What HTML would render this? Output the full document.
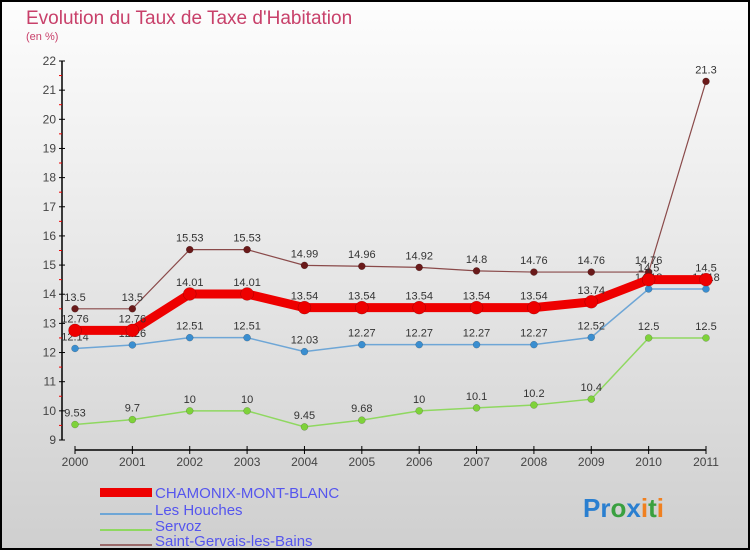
<!DOCTYPE html>
<html><head><meta charset="utf-8"><style>
html,body{margin:0;padding:0}
body{width:750px;height:550px;overflow:hidden;font-family:"Liberation Sans",sans-serif}
#wrap{position:absolute;left:0;top:0;width:746px;height:546px;border:2px solid #000;background:linear-gradient(#fdfdfd,#cfcfcf)}
</style></head><body>
<div id="wrap">
<svg id="chart" width="746" height="546" viewBox="2 2 746 546" style="position:absolute;left:0;top:0">
<text x="26" y="24" font-size="19" fill="#c8406a">Evolution du Taux de Taxe d'Habitation</text>
<text x="26" y="40" font-size="11" fill="#c8406a">(en %)</text>
<g id="axes"></g><g id="series"></g>
<g id="legend">
<rect x="100" y="488" width="52" height="9" fill="#e00"/>
<text x="155" y="498" font-size="15" fill="#5555ee">CHAMONIX-MONT-BLANC</text>
<line x1="100" y1="514" x2="152" y2="514" stroke="#6ea6d6" stroke-width="2"/>
<text x="155" y="515" font-size="15" fill="#5555ee">Les Houches</text>
<line x1="100" y1="530" x2="152" y2="530" stroke="#8fd860" stroke-width="2"/>
<text x="155" y="531" font-size="15" fill="#5555ee">Servoz</text>
<line x1="100" y1="545" x2="152" y2="545" stroke="#9a6a6a" stroke-width="2"/>
<text x="155" y="546" font-size="15" fill="#5555ee">Saint-Gervais-les-Bains</text>
</g>
<text x="583" y="517" font-size="26" font-weight="bold"><tspan fill="#2a7fd0">Pr</tspan><tspan fill="#3aa040">o</tspan><tspan fill="#2a7fd0">x</tspan><tspan fill="#f08020">i</tspan><tspan fill="#3aa040">t</tspan><tspan fill="#f08020">i</tspan></text>
</svg>
</div>
<script>
const years=["2000","2001","2002","2003","2004","2005","2006","2007","2008","2009","2010","2011"];
const yTicks=[9,10,11,12,13,14,15,16,17,18,19,20,21,22];
const chamonix=[12.76,12.76,14.01,14.01,13.54,13.54,13.54,13.54,13.54,13.74,14.5,14.5];
const houches=[12.14,12.26,12.51,12.51,12.03,12.27,12.27,12.27,12.27,12.52,14.18,14.18];
const servoz=[9.53,9.7,10,10,9.45,9.68,10,10.1,10.2,10.4,12.5,12.5];
const stgervais=[13.5,13.5,15.53,15.53,14.99,14.96,14.92,14.8,14.76,14.76,14.76,21.3];
const NS="http://www.w3.org/2000/svg";
function xS(i){return 75+i*(706-75)/11;}
function yS(v){return 440-(v-9)*(440-61)/13;}
function mk(t,a,p){const e=document.createElementNS(NS,t);for(const k in a)e.setAttribute(k,a[k]);p.appendChild(e);return e;}
const ax=document.getElementById('axes');
let l=mk('line',{x1:62,y1:61,x2:62,y2:440,stroke:'#000','stroke-width':1.5},ax);


l=mk('line',{x1:75,y1:450,x2:706,y2:450,stroke:'#000','stroke-width':1.5},ax);


yTicks.forEach(v=>{const y=yS(v);
mk('line',{x1:59,y1:y,x2:65,y2:y,stroke:'#000'},ax);
if(v<22)mk('line',{x1:59,y1:y-14.6,x2:62,y2:y-14.6,stroke:'#e00'},ax);
const t=mk('text',{x:56,y:y+4,'font-size':12,fill:'#444','text-anchor':'end'},ax);t.textContent=v;

});
years.forEach((yr,i)=>{const x=xS(i);
mk('line',{x1:x,y1:446,x2:x,y2:454,stroke:'#000'},ax);
const t=mk('text',{x:x,y:466,'font-size':12,fill:'#444','text-anchor':'middle'},ax);t.textContent=yr;

});
const sg=document.getElementById('series');
function draw(vals,color,dot,w,r,name){
const g=mk('g',{},sg);


const p=mk('polyline',{points:vals.map((v,i)=>xS(i)+','+yS(v)).join(' '),fill:'none',stroke:color,'stroke-width':w},g);


vals.forEach((v,i)=>{const c=mk('circle',{cx:xS(i),cy:yS(v),r:r,fill:dot,stroke:'rgba(0,0,0,0.3)','stroke-width':0.5},g);


const t=mk('text',{x:xS(i),y:yS(v)-8,'font-size':11,fill:'#333','text-anchor':'middle'},g);t.textContent=v;

});
}
draw(servoz,'#8fd860','#7ed23a',1.5,3.5,'servoz');
draw(houches,'#6ea6d6','#3a8ed0',1.5,3.5,'les-houches');
draw(stgervais,'#8a4a4a','#6a1a1a',1.2,3.5,'saint-gervais');
draw(chamonix,'#ee0000','#ee0000',9,6.5,'chamonix');
</script>
</body></html>
